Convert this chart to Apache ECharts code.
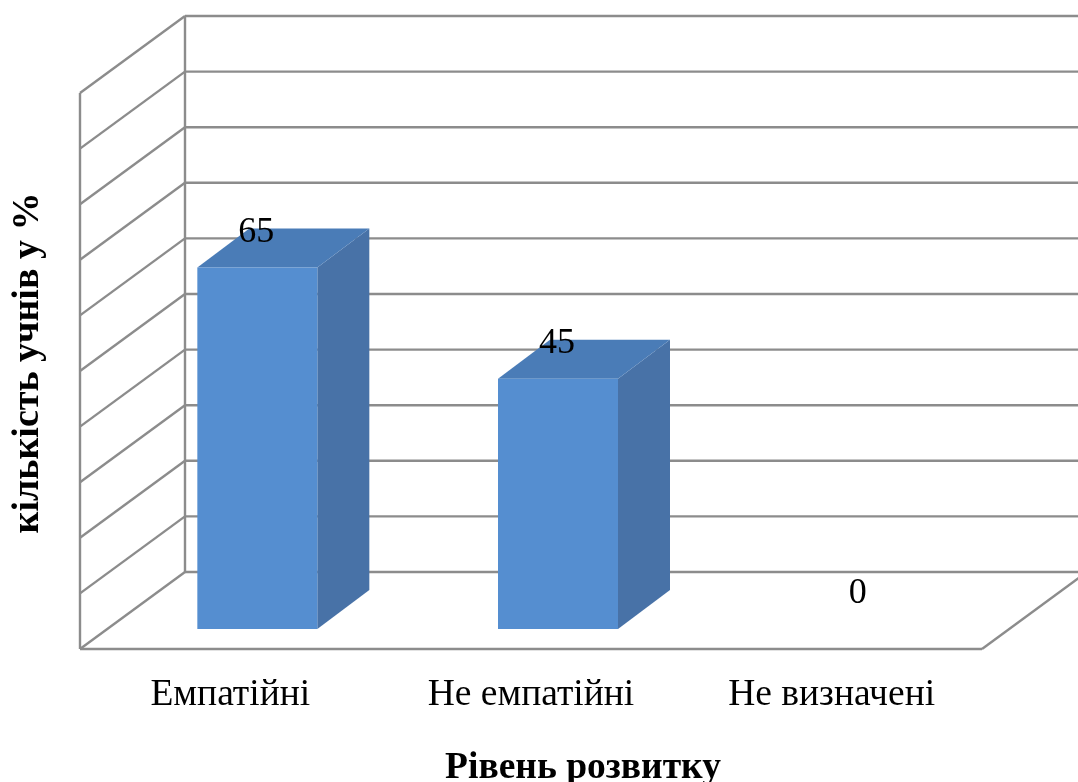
<!DOCTYPE html>
<html><head><meta charset="utf-8">
<style>html,body{margin:0;padding:0;background:#fff}#c{width:1078px;height:782px}</style>
<script src="https://cdn.jsdelivr.net/npm/echarts@6/dist/echarts.min.js"></script>
</head><body><div id="c"></div>
<script>
const categories = ['Емпатійні', 'Не емпатійні', 'Не визначені'];
const values = [65, 45, 0];
const gridValues = [0, 10, 20, 30, 40, 50, 60, 70, 80, 90, 100];
const xTitle = 'Рівень розвитку';
const yTitle = 'кількість учнів у %';

const DX = 105, DY = -77;
const FONT = '"Liberation Serif", serif';
const LINE = { stroke: '#8c8c8c', lineWidth: 2.4, fill: null };
const chart = echarts.init(document.getElementById('c'), null, { renderer: 'canvas' });

function line(x1, y1, x2, y2) {
  return { type: 'line', silent: true, shape: { x1, y1, x2, y2 }, style: LINE };
}
function poly(points, fill) {
  return { type: 'polygon', silent: true, shape: { points }, style: { fill, stroke: null } };
}

chart.setOption({
  animation: false,
  backgroundColor: '#fff',
  grid: { left: 80, right: 96, top: 93, bottom: 133, outerBoundsMode: 'none' },
  xAxis: {
    type: 'category', data: categories,
    axisLine: { show: false }, axisTick: { show: false }, splitLine: { show: false },
    axisLabel: { color: '#000', fontFamily: FONT, fontSize: 37.5, margin: 27 },
    name: xTitle, nameLocation: 'middle', nameGap: 100,
    nameTextStyle: { color: '#000', fontFamily: FONT, fontSize: 37.5, fontWeight: 'bold', padding: [0, 0, 0, 104] }
  },
  yAxis: {
    type: 'value', min: 0, max: 100, interval: 10,
    axisLine: { show: false }, axisTick: { show: false }, splitLine: { show: false },
    axisLabel: { show: false },
    name: yTitle, nameLocation: 'middle', nameGap: 33, nameRotate: 90,
    nameTextStyle: { color: '#000', fontFamily: FONT, fontSize: 38, fontWeight: 'bold', padding: [0, 0, 0, 16] }
  },
  series: [
    {
      type: 'custom', clip: false, silent: true, z: 1,
      data: gridValues.map(v => [0, v]),
      renderItem(params, api) {
        const band = api.size([1, 0])[0];
        const p = api.coord([0, api.value(1)]);
        const left = p[0] - band / 2, right = p[0] + band * 2.5, y = p[1];
        const kids = [
          line(left, y, left + DX, y + DY),
          line(left + DX, y + DY, right + DX, y + DY)
        ];
        if (api.value(1) === 0) {
          kids.push(line(left, y, right, y), line(right, y, right + DX, y + DY));
          const top = api.coord([0, 100])[1];
          kids.push(line(left, y, left, top), line(left + DX, y + DY, left + DX, top + DY));
        }
        return { type: 'group', children: kids };
      }
    },
    {
      type: 'custom', clip: false, silent: true, z: 2,
      data: values.map((v, i) => [i, v]),
      renderItem(params, api) {
        const base = api.coord([api.value(0), 0]);
        const top = api.coord([api.value(0), api.value(1)]);
        const bw = 120, fx = 27, fy = -20, bx = 52, by = -39;
        const x0 = base[0] + fx - bw / 2, x1 = x0 + bw;
        const yb = base[1] + fy, yt = top[1] + fy;
        const kids = [];
        if (api.value(1) > 0) {
          kids.push(
            poly([[x1, yb], [x1 + bx, yb + by], [x1 + bx, yt + by], [x1, yt]], '#4872a7'),
            poly([[x0, yt], [x1, yt], [x1 + bx, yt + by], [x0 + bx, yt + by]], '#4a7cb7'),
            { type: 'rect', silent: true, shape: { x: x0, y: yt, width: bw, height: yb - yt }, style: { fill: '#558ed0' } }
          );
        }
        kids.push({
          type: 'text', silent: true, z2: 10,
          style: {
            text: String(api.value(1)), x: x0 + bw / 2 - 1, y: yt - 35,
            fill: '#000', font: '36px ' + FONT, align: 'center', verticalAlign: 'middle'
          }
        });
        return { type: 'group', children: kids };
      }
    }
  ]
});
</script></body></html>
